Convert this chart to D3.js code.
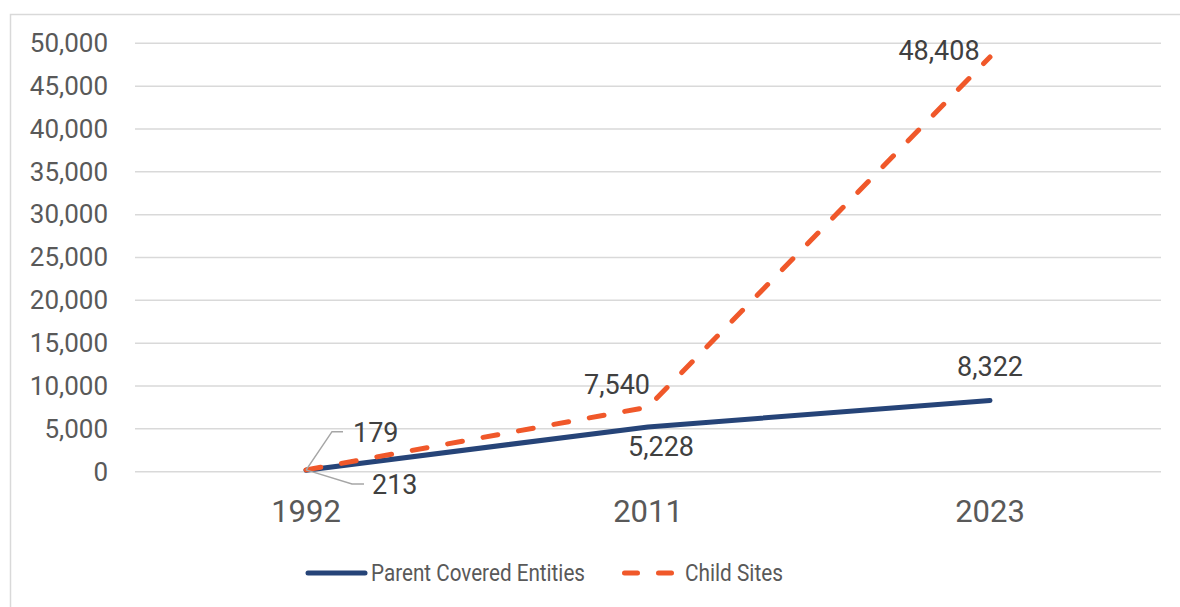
<!DOCTYPE html>
<html>
<head>
<meta charset="utf-8">
<script src="https://cdn.jsdelivr.net/npm/d3@7"></script>
<style>
  body { margin: 0; background: #fff; }
  svg { display: block; font-family: Roboto, "Noto Sans", sans-serif; }
</style>
</head>
<body>
<div id="main"></div>
<script>
// chart data
const years = ["1992", "2011", "2023"];
const parentValues = [179, 5228, 8322];
const childValues = [213, 7540, 48408];
const yTicks = [0, 5000, 10000, 15000, 20000, 25000, 30000, 35000, 40000, 45000, 50000];
const seriesNames = ["Parent Covered Entities", "Child Sites"];

const W = 1180, H = 607;
const navy = "#264478", orange = "#F0582A";

const svg = d3.select("#main").append("svg")
  .attr("width", W).attr("height", H);

// outer frame
svg.append("rect")
  .attr("x", 10.5).attr("y", 14.5)
  .attr("width", 1200).attr("height", 620)
  .attr("fill", "none").attr("stroke", "#d9d9d9").attr("stroke-width", 1.5);

const x = d3.scaleBand().domain(years).range([135, 1161]);
const y = d3.scaleLinear().domain([0, 50000]).range([471.7, 43.3]);
const cx = d => x(d) + x.bandwidth() / 2;

// gridlines
svg.append("g").selectAll("line")
  .data(yTicks).enter().append("line")
  .attr("x1", 135).attr("x2", 1161)
  .attr("y1", d => y(d)).attr("y2", d => y(d))
  .attr("stroke", "#d9d9d9").attr("stroke-width", 1.5);

// y axis labels
const yAxis = svg.append("g")
  .attr("transform", "translate(108,0)")
  .call(d3.axisLeft(y).tickValues(yTicks).tickFormat(d3.format(",")).tickSize(0).tickPadding(0));
yAxis.select(".domain").remove();
yAxis.selectAll("text")
  .attr("fill", "#595959")
  .style("font-size", "26px")
  .style("font-family", "Roboto, sans-serif");

// x axis labels
const xAxis = svg.append("g")
  .attr("transform", "translate(0,500)")
  .call(d3.axisBottom(x).tickSize(0).tickPadding(0));
xAxis.select(".domain").remove();
xAxis.selectAll("text")
  .attr("fill", "#595959")
  .attr("dy", "0.71em")
  .style("font-size", "31px")
  .style("font-family", "Roboto, sans-serif");

const line = d3.line()
  .x((d, i) => cx(years[i]))
  .y(d => y(d));

svg.append("path")
  .datum(parentValues)
  .attr("d", line)
  .attr("fill", "none")
  .attr("stroke", navy)
  .attr("stroke-width", 5)
  .attr("stroke-linecap", "round")
  .attr("stroke-linejoin", "round");

svg.append("path")
  .datum(childValues)
  .attr("d", line)
  .attr("fill", "none")
  .attr("stroke", orange)
  .attr("stroke-width", 5)
  .attr("stroke-dasharray", "15,21")
  .attr("stroke-linecap", "round")
  .attr("stroke-linejoin", "round");

// data labels (offsets from the point)
const labels = [
  {v: parentValues[0], i: 0, dx: 47, dy: -38, anchor: "start"},
  {v: childValues[0], i: 0, dx: 66, dy: 15, anchor: "start"},
  {v: parentValues[1], i: 1, dx: 13, dy: 20, anchor: "middle"},
  {v: childValues[1], i: 1, dx: -31, dy: -23, anchor: "middle"},
  {v: parentValues[2], i: 2, dx: 0, dy: -34, anchor: "middle"},
  {v: childValues[2], i: 2, dx: -51, dy: -6, anchor: "middle"}
];
labels.forEach(l => {
  l.px = cx(years[l.i]);
  l.py = y(l.v);
});

// leader lines for the 1992 labels
svg.append("path")
  .attr("d", `M${cx(years[0])},${y(parentValues[0])} L332,431.7 L343,431.7`)
  .attr("fill", "none").attr("stroke", "#a6a6a6").attr("stroke-width", 1.5);
svg.append("path")
  .attr("d", `M${cx(years[0])},${y(childValues[0])} L352,484 L364,484`)
  .attr("fill", "none").attr("stroke", "#a6a6a6").attr("stroke-width", 1.5);

svg.append("g").selectAll("text")
  .data(labels).enter().append("text")
  .attr("x", d => d.px + d.dx)
  .attr("y", d => d.py + d.dy)
  .attr("dy", "0.35em")
  .attr("text-anchor", d => d.anchor)
  .attr("fill", "#404040")
  .style("font-size", "27px")
  .text(d => d3.format(",")(d.v));

// legend
const legend = svg.append("g");
legend.append("line")
  .attr("x1", 308).attr("x2", 365).attr("y1", 573).attr("y2", 573)
  .attr("stroke", navy).attr("stroke-width", 5).attr("stroke-linecap", "round");
legend.append("text")
  .attr("x", 371).attr("y", 573).attr("dy", "0.35em")
  .attr("fill", "#595959").style("font-size", "23px")
  .attr("textLength", 214).attr("lengthAdjust", "spacingAndGlyphs")
  .text(seriesNames[0]);
legend.append("line")
  .attr("x1", 624.5).attr("x2", 675).attr("y1", 573).attr("y2", 573)
  .attr("stroke", orange).attr("stroke-width", 5)
  .attr("stroke-dasharray", "13,21").attr("stroke-linecap", "round");
legend.append("text")
  .attr("x", 685).attr("y", 573).attr("dy", "0.35em")
  .attr("fill", "#595959").style("font-size", "23px")
  .attr("textLength", 98).attr("lengthAdjust", "spacingAndGlyphs")
  .text(seriesNames[1]);
</script>
</body>
</html>
